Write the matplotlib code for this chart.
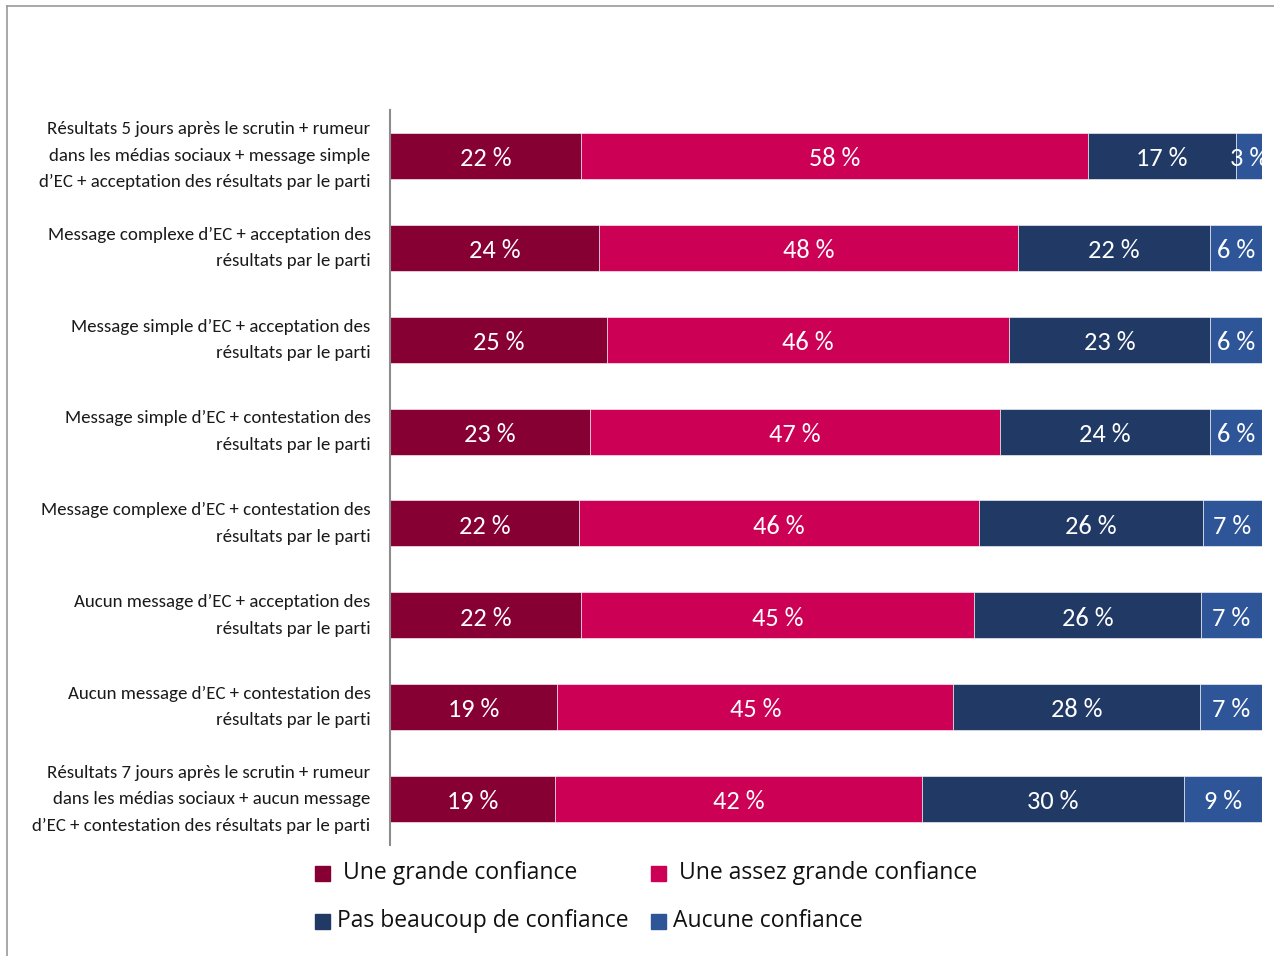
import matplotlib.pyplot as plt
from matplotlib.lines import Line2D
from matplotlib.patches import Rectangle
import numpy as np

# Data
categories = [
    "Résultats 5 jours après le scrutin + rumeur\ndans les médias sociaux + message simple\nd’EC + acceptation des résultats par le parti",
    "Message complexe d’EC + acceptation des\nrésultats par le parti",
    "Message simple d’EC + acceptation des\nrésultats par le parti",
    "Message simple d’EC + contestation des\nrésultats par le parti",
    "Message complexe d’EC + contestation des\nrésultats par le parti",
    "Aucun message d’EC + acceptation des\nrésultats par le parti",
    "Aucun message d’EC + contestation des\nrésultats par le parti",
    "Résultats 7 jours après le scrutin + rumeur\ndans les médias sociaux + aucun message\nd’EC + contestation des résultats par le parti",
]
series_names = [
    "Une grande confiance",
    "Une assez grande confiance",
    "Pas beaucoup de confiance",
    "Aucune confiance",
]
# unrounded shares (bar lengths) and the rounded labels shown on the bars
grande = [21.9, 24.0, 24.9, 22.9, 21.7, 21.9, 19.2, 18.9]
assez = [58.1, 48.0, 46.1, 47.1, 45.8, 45.1, 45.4, 42.1]
pas_beaucoup = [17.0, 22.0, 23.0, 24.0, 25.7, 26.0, 28.3, 30.0]
aucune = [3.0, 6.0, 6.0, 6.0, 6.8, 7.0, 7.1, 9.0]
lab_grande = [22, 24, 25, 23, 22, 22, 19, 19]
lab_assez = [58, 48, 46, 47, 46, 45, 45, 42]
lab_pas_beaucoup = [17, 22, 23, 24, 26, 26, 28, 30]
lab_aucune = [3, 6, 6, 6, 7, 7, 7, 9]
colors = ["#870033", "#CC0055", "#213965", "#2E5597"]

calibri = ["Carlito", "Lato", "DejaVu Sans"]

W, H = 1274, 956
fig = plt.figure(figsize=(W / 100, H / 100), dpi=100)
ax = fig.add_axes([390 / W, 1 - 845 / H, (1262 - 390) / W, (845 - 110) / H])

y = np.arange(len(categories))
left = np.zeros(len(categories))
series = zip([grande, assez, pas_beaucoup, aucune],
             [lab_grande, lab_assez, lab_pas_beaucoup, lab_aucune],
             series_names, colors)
for vals, labs, name, col in series:
    bars = ax.barh(y, vals, left=left, height=0.5, color=col, edgecolor="white",
                   linewidth=0.4, label=name)
    txts = ax.bar_label(bars, labels=[f"{v} %" for v in labs], label_type="center",
                        color="white", fontsize=19, family=calibri)
    for t in txts:
        t.set_clip_on(True)
        t.set_y(-2)
    left += np.array(vals)

ax.set_xlim(0, 100)
ax.set_ylim(len(categories) - 0.5, -0.5)
ax.set_yticks(y)
ax.set_yticklabels(categories, fontsize=13.6, family=calibri, color="#1a1a1a",
                   linespacing=1.8, va="center")
ax.tick_params(axis="y", length=0, pad=14)
ax.set_xticks([])
for s in ["top", "right", "bottom"]:
    ax.spines[s].set_visible(False)
ax.spines["left"].set_color("#8c8c8c")
ax.spines["left"].set_linewidth(1.5)

# legend drawn in two rows
leg_pos = [(315, 873, 343), (651, 873, 679), (315, 921, 337), (651, 921, 673)]
for (sx, sy, tx), name, col in zip(leg_pos, series_names, colors):
    fig.add_artist(Rectangle((sx / W, 1 - (sy + 8) / H), 15 / W, 15 / H,
                             transform=fig.transFigure, color=col))
    fig.text(tx / W, 1 - sy / H, name, fontsize=16.5, va="center", ha="left",
             color="#111111", family=["Open Sans", "DejaVu Sans"])

# outer frame (top and left)
fig.add_artist(Line2D([7 / W, 1], [1 - 6 / H, 1 - 6 / H], color="#999999", lw=1.2))
fig.add_artist(Line2D([7 / W, 7 / W], [0, 1 - 6 / H], color="#999999", lw=1.2))

fig.savefig("out.png", dpi=100)
